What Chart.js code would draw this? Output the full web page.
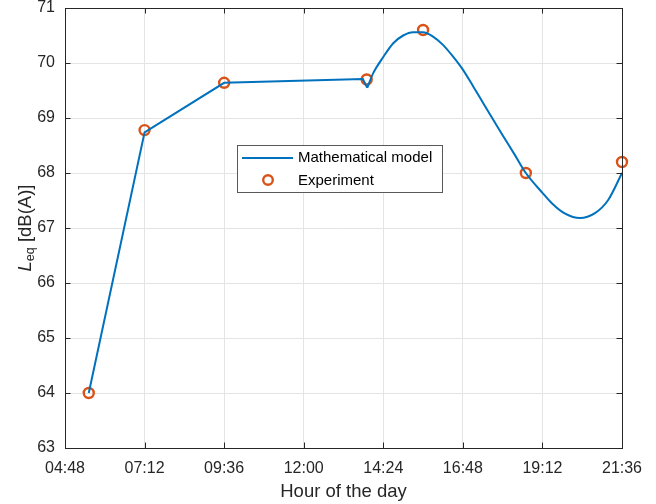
<!DOCTYPE html>
<html>
<head>
<meta charset="utf-8">
<script src="https://cdn.jsdelivr.net/npm/chart.js@4.4.1/dist/chart.umd.min.js"></script>
<style>
  html, body { margin: 0; padding: 0; background: #ffffff; }
  #wrap { width: 656px; height: 504px; }
</style>
</head>
<body>
<div id="wrap"><canvas id="c" width="656" height="504"></canvas></div>
<script>
// Axis tick labels (hour of the day)
const hourTicks = ['04:48', '07:12', '09:36', '12:00', '14:24', '16:48', '19:12', '21:36'];
const levelTicks = [63, 64, 65, 66, 67, 68, 69, 70, 71];

// Measured equivalent sound levels
const expTimes  = ['05:31', '07:12', '09:36', '13:54', '15:36', '18:42', '21:36'];
const expLevels = [64.0, 68.78, 69.64, 69.70, 70.60, 68.00, 68.20];

// Mathematical model: piecewise-linear morning part
const modelLinTimes  = ['05:31', '07:12', '09:36', '13:47', '13:55'];
const modelLinLevels = [64.0, 68.74, 69.64, 69.71, 69.55];

// Mathematical model: smooth afternoon/evening part
const modelCurveTimes  = ['13:55', '14:06', '14:24', '14:42', '15:00', '15:18', '15:36', '15:54',
                          '16:12', '16:30', '16:48', '17:07', '17:26', '17:58', '18:22', '18:42',
                          '19:12', '19:29', '19:53', '20:20', '20:47', '21:11', '21:36'];
const modelCurveLevels = [69.55, 69.82, 70.11, 70.36, 70.50, 70.56, 70.56, 70.48,
                          70.33, 70.12, 69.88, 69.57, 69.25, 68.72, 68.33, 68.00,
                          67.64, 67.45, 67.26, 67.18, 67.27, 67.51, 68.00];

const toMin = s => { const [h, m] = s.split(':').map(Number); return h * 60 + m; };
const pairs = (ts, vs) => ts.map((t, i) => ({ x: toMin(t), y: vs[i] }));

const FONT = "'Liberation Sans', Arial, Helvetica, sans-serif";
const AXIS_COLOR = '#262626';
const BLUE = '#0072BD';
const ORANGE = '#D95319';

// Axes box, inner tick marks, y-axis title with subscript and the legend
const decorations = {
  id: 'decorations',
  afterDraw(chart) {
    const ctx = chart.ctx;
    const { left, right, top, bottom } = chart.chartArea;
    const xs = chart.scales.x, ys = chart.scales.y;
    ctx.save();
    ctx.strokeStyle = AXIS_COLOR;
    ctx.lineWidth = 1;
    // inner ticks
    const tl = 5.5;
    ctx.beginPath();
    xs.ticks.forEach(t => {
      const px = Math.round(xs.getPixelForValue(t.value)) + 0.5;
      ctx.moveTo(px, bottom); ctx.lineTo(px, bottom - tl);
      ctx.moveTo(px, top); ctx.lineTo(px, top + tl);
    });
    ys.ticks.forEach(t => {
      const py = Math.round(ys.getPixelForValue(t.value)) + 0.5;
      ctx.moveTo(left, py); ctx.lineTo(left + tl, py);
      ctx.moveTo(right, py); ctx.lineTo(right - tl, py);
    });
    ctx.stroke();
    // box
    ctx.strokeRect(Math.round(left) + 0.5, Math.round(top) + 0.5,
                   Math.round(right - left), Math.round(bottom - top));

    // y-axis title: L_eq [dB(A)]
    ctx.save();
    ctx.translate(26, (top + bottom) / 2);
    ctx.rotate(-Math.PI / 2);
    ctx.fillStyle = AXIS_COLOR;
    ctx.textBaseline = 'middle';
    const big = "18.5px " + FONT, italic = "italic 18.5px " + FONT, small = "12.5px " + FONT;
    ctx.font = italic; const wL = ctx.measureText('L').width;
    ctx.font = small; const wEq = ctx.measureText('eq').width;
    ctx.font = big; const wRest = ctx.measureText(' [dB(A)]').width;
    let x0 = -(wL + wEq + wRest) / 2;
    ctx.font = italic; ctx.textAlign = 'left'; ctx.fillText('L', x0, 0); x0 += wL;
    ctx.font = small; ctx.fillText('eq', x0, 5); x0 += wEq;
    ctx.font = big; ctx.fillText(' [dB(A)]', x0, 0);
    ctx.restore();

    // legend
    const lx = 237, ly = 145, lw = 205, lh = 47;
    ctx.fillStyle = '#ffffff';
    ctx.fillRect(lx, ly, lw, lh);
    ctx.strokeStyle = '#595959';
    ctx.lineWidth = 1;
    ctx.strokeRect(lx + 0.5, ly + 0.5, lw, lh);
    ctx.strokeStyle = BLUE; ctx.lineWidth = 2;
    ctx.beginPath(); ctx.moveTo(242, 158); ctx.lineTo(293, 158); ctx.stroke();
    ctx.strokeStyle = ORANGE; ctx.lineWidth = 2.4;
    ctx.beginPath(); ctx.arc(268, 180, 4.8, 0, Math.PI * 2); ctx.stroke();
    ctx.fillStyle = '#000000';
    ctx.font = "15px " + FONT;
    ctx.textAlign = 'left'; ctx.textBaseline = 'middle';
    ctx.fillText(chart.data.datasets[0].label, 298, 158);
    ctx.fillText(chart.data.datasets[2].label, 298, 181);
    ctx.restore();
  }
};

new Chart(document.getElementById('c'), {
  type: 'line',
  data: {
    datasets: [
      {
        label: 'Mathematical model',
        data: pairs(modelLinTimes, modelLinLevels),
        borderColor: BLUE, borderWidth: 2, tension: 0,
        pointRadius: 0, fill: false
      },
      {
        label: 'Mathematical model (smooth)',
        data: pairs(modelCurveTimes, modelCurveLevels),
        borderColor: BLUE, borderWidth: 2, cubicInterpolationMode: 'monotone',
        pointRadius: 0, fill: false
      },
      {
        label: 'Experiment',
        data: pairs(expTimes, expLevels),
        showLine: false, clip: false,
        pointStyle: 'circle', pointRadius: 5, pointBorderWidth: 2.4,
        pointBorderColor: ORANGE, pointBackgroundColor: 'rgba(0,0,0,0)'
      }
    ]
  },
  options: {
    responsive: false,
    animation: false,
    devicePixelRatio: 1,
    layout: { padding: { top: 8, right: 34, left: 0, bottom: 0 } },
    plugins: { legend: { display: false }, tooltip: { enabled: false } },
    scales: {
      x: {
        type: 'linear',
        min: toMin(hourTicks[0]),
        max: toMin(hourTicks[hourTicks.length - 1]),
        afterBuildTicks: s => { s.ticks = hourTicks.map(t => ({ value: toMin(t) })); },
        afterFit: s => { s.height = 56; s.paddingLeft = 0; s.paddingRight = 0; },
        grid: { color: '#e4e4e4', lineWidth: 1, drawTicks: false },
        border: { display: false },
        ticks: {
          autoSkip: false, maxRotation: 0, padding: 11,
          color: AXIS_COLOR, font: { family: FONT, size: 16 },
          callback: (v, i) => hourTicks[i]
        },
        title: {
          display: true, text: 'Hour of the day', color: AXIS_COLOR,
          font: { family: FONT, size: 18.5 }, padding: { top: 0, bottom: 1 }
        }
      },
      y: {
        min: levelTicks[0],
        max: levelTicks[levelTicks.length - 1],
        afterBuildTicks: s => { s.ticks = levelTicks.map(v => ({ value: v })); },
        afterFit: s => { s.width = 65; s.paddingTop = 0; s.paddingBottom = 0; },
        grid: { color: '#e4e4e4', lineWidth: 1, drawTicks: false },
        border: { display: false },
        ticks: {
          padding: 10, color: AXIS_COLOR, font: { family: FONT, size: 16 },
          callback: v => String(v)
        }
      }
    }
  },
  plugins: [decorations]
});
</script>
</body>
</html>
